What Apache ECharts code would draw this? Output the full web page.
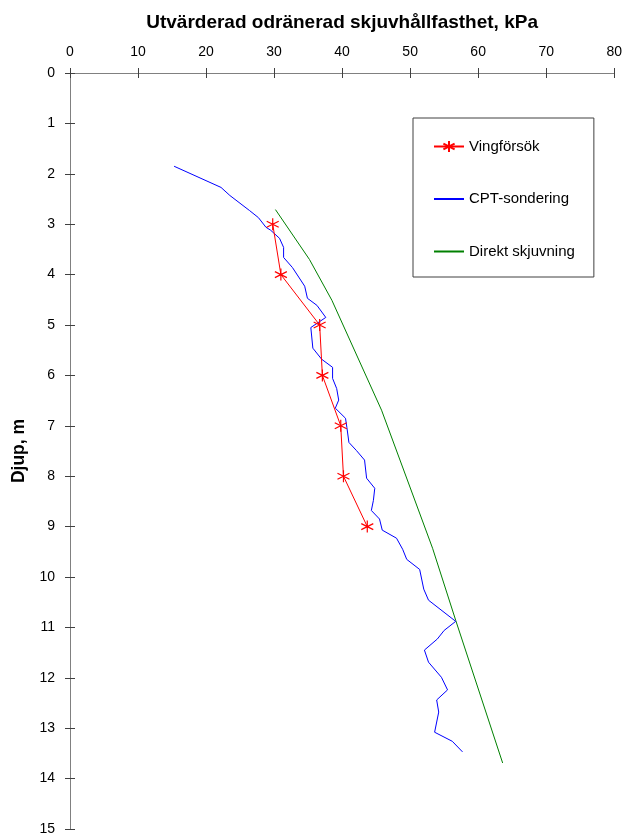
<!DOCTYPE html>
<html><head><meta charset="utf-8">
<script src="https://cdn.jsdelivr.net/npm/echarts@6/dist/echarts.min.js"></script>
<style>html,body{margin:0;padding:0;background:#fff}#c{width:625px;height:839px}</style>
</head><body><div id="c"></div>
<script>
const xTitle = 'Utvärderad odränerad skjuvhållfasthet, kPa';
const yTitle = 'Djup, m';
const seriesNames = ['Vingförsök', 'CPT-sondering', 'Direkt skjuvning'];
const xTickValues = [0, 10, 20, 30, 40, 50, 60, 70, 80];
const yTickValues = [0, 1, 2, 3, 4, 5, 6, 7, 8, 9, 10, 11, 12, 13, 14, 15];

const vingStrength = [29.8, 31.0, 36.7, 37.1, 39.8, 40.2, 43.7];
const vingDepth    = [3, 4, 5, 6, 7, 8, 9];

const cptStrength = [15.3, 22.2, 23.5, 26.4, 27.7, 28.8, 29.5, 30.8, 31.4, 31.4, 32.7, 34.5, 34.9, 36.3, 37.6,
  35.4, 35.7, 37.0, 38.6, 38.6, 39.2, 39.5, 39.0, 40.5, 40.7, 41.0, 42.1, 43.3, 43.6, 44.8, 44.6, 44.3, 45.5,
  45.9, 48.0, 48.9, 49.5, 51.4, 52.0, 52.7, 56.7, 55.0, 54.0, 52.1, 52.7, 54.6, 55.5, 53.9, 54.2, 53.6, 56.2, 57.7];
const cptDepth = [1.85, 2.27, 2.43, 2.73, 2.87, 3.06, 3.12, 3.28, 3.46, 3.66, 3.86, 4.23, 4.47, 4.61, 4.85,
  5.05, 5.46, 5.68, 5.84, 6.06, 6.26, 6.49, 6.65, 6.85, 7.03, 7.33, 7.49, 7.68, 8.04, 8.24, 8.48, 8.68, 8.85,
  9.07, 9.23, 9.45, 9.65, 9.85, 10.24, 10.46, 10.88, 11.06, 11.23, 11.45, 11.69, 11.99, 12.24, 12.44, 12.68, 13.08, 13.26, 13.47];

const dsStrength = [30.2, 35.2, 38.5, 45.8, 53.3, 56.7, 63.6];
const dsDepth    = [2.71, 3.70, 4.51, 6.69, 9.43, 10.86, 13.69];

const pairs = (xs, ys) => xs.map((v, i) => [v, ys[i]]);
const FONT = '"Liberation Sans", Arial, sans-serif';
const starPath = 'path://M5,0 L5,10 M0.7,2.5 L9.3,7.5 M0.7,7.5 L9.3,2.5';

const grid = { left: 70, top: 73, right: 10, bottom: 10 };
const xBase = {
  type: 'value', min: xTickValues[0], max: xTickValues[xTickValues.length - 1],
  interval: xTickValues[1] - xTickValues[0], splitLine: { show: false }
};
const yBase = {
  type: 'value', inverse: true, min: yTickValues[0], max: yTickValues[yTickValues.length - 1],
  interval: yTickValues[1] - yTickValues[0], splitLine: { show: false }
};
const lineCol = '#808080';
const tickStyle = { color: '#404040', width: 1 };

const option = {
  animation: false,
  backgroundColor: '#fff',
  grid: grid,
  legend: {
    orient: 'vertical', left: 413, top: 118,
    padding: [21, 19, 18, 20],
    itemGap: 37.5, itemWidth: 30, itemHeight: 14,
    borderColor: '#404040', borderWidth: 1,
    textStyle: { fontFamily: FONT, fontSize: 15, color: '#000' },
    data: [
      { name: seriesNames[0] },
      { name: seriesNames[1], itemStyle: { opacity: 0 } },
      { name: seriesNames[2], itemStyle: { opacity: 0 } }
    ]
  },
  xAxis: [
    Object.assign({}, xBase, {
      position: 'top',
      name: xTitle, nameLocation: 'middle', nameGap: 41,
      nameTextStyle: { fontFamily: FONT, fontSize: 19, fontWeight: 'bold', color: '#000' },
      axisLine: { show: true, onZero: false, lineStyle: { color: lineCol, width: 1 } },
      axisTick: { show: true, inside: false, length: 5, lineStyle: tickStyle },
      axisLabel: { fontFamily: FONT, fontSize: 14, color: '#000', margin: 14 }
    }),
    Object.assign({}, xBase, {
      position: 'bottom',
      axisLine: { show: true, onZero: true, onZeroAxisIndex: 0, lineStyle: { color: lineCol, width: 1 } },
      axisTick: { show: true, inside: false, length: 5, lineStyle: tickStyle },
      axisLabel: { show: false }
    })
  ],
  yAxis: [
    Object.assign({}, yBase, {
      position: 'left',
      name: yTitle, nameLocation: 'middle', nameGap: 39,
      nameTextStyle: { fontFamily: FONT, fontSize: 17.5, fontWeight: 'bold', color: '#000' },
      axisLine: { show: true, onZero: false, lineStyle: { color: lineCol, width: 1 } },
      axisTick: { show: true, inside: false, length: 5, lineStyle: tickStyle },
      axisLabel: { fontFamily: FONT, fontSize: 14, color: '#000', margin: 15 }
    }),
    Object.assign({}, yBase, {
      position: 'right',
      axisLine: { show: true, onZero: true, onZeroAxisIndex: 0, lineStyle: { color: lineCol, width: 1 } },
      axisTick: { show: true, inside: false, length: 5, lineStyle: tickStyle },
      axisLabel: { show: false }
    })
  ],
  series: [
    {
      name: seriesNames[0], type: 'line', z: 4,
      data: pairs(vingStrength, vingDepth),
      symbol: starPath, symbolSize: 12, showSymbol: true,
      lineStyle: { color: '#ff0000', width: 1 },
      itemStyle: { color: 'rgba(0,0,0,0)', borderColor: '#ff0000', borderWidth: 1.2 }
    },
    {
      name: seriesNames[1], type: 'line', z: 3,
      data: pairs(cptStrength, cptDepth),
      symbol: 'none', showSymbol: false,
      lineStyle: { color: '#0000ff', width: 1 },
      itemStyle: { color: '#0000ff' }
    },
    {
      name: seriesNames[2], type: 'line', z: 2,
      data: pairs(dsStrength, dsDepth),
      symbol: 'none', showSymbol: false,
      lineStyle: { color: '#008000', width: 1 },
      itemStyle: { color: '#008000' }
    }
  ]
};
const chart = echarts.init(document.getElementById('c'), null, { renderer: 'canvas' });
chart.setOption(option);
</script>
</body></html>
